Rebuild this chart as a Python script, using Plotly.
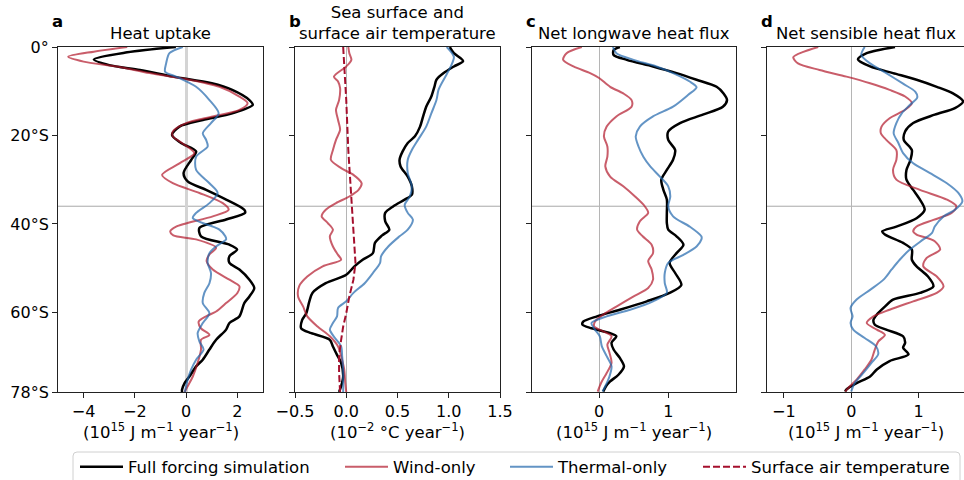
import plotly.graph_objects as go

# ---------------- data (latitude in degrees, negative = south) ----------------
# Panel a: heat uptake (1e15 J m-1 yr-1)
lat_a_full = [0, -1.2, -2.8, -4.1, -5.2, -6.7, -8.2, -9.7, -12.0, -13.1, -15.0, -16.5, -18.0, -19.9, -21.7, -23.6,
              -25.5, -28.5, -30.4, -32.3, -34.5, -36.8, -37.5, -39.0, -40.9, -42.8, -44.7, -45.8, -47.3, -48.8,
              -50.3, -52.6, -54.5, -56.4, -57.9, -60.9, -62.4, -63.9, -66.2, -68.4, -70.7, -72.2, -74.5, -76.0,
              -77.5, -78.0]
a_full = [-0.4, -2.3, -3.6, -3.0, -1.8, -0.5, 1.0, 1.8, 2.47, 2.6, 1.8, 0.65, -0.26, -0.55, -0.2, 0.39,
          0.2, -0.1, 0.06, 0.78, 1.56, 2.27, 2.3, 1.56, 0.52, 0.58, 1.69, 1.99, 1.69, 1.69,
          2.08, 2.47, 2.66, 2.47, 2.27, 2.08, 1.69, 1.56, 1.17, 0.91, 0.65, 0.39, 0.13, -0.06,
          -0.16, -0.16]
lat_a_wind = [0, -1.05, -2.2, -3.3, -4.4, -5.9, -7.4, -9.0, -11.2, -12.7, -14.2, -15.7, -17.2, -19.1, -20.2, -21.7,
              -24.0, -26.3, -28.9, -30.8, -33.0, -35.3, -36.8, -38.3, -40.6, -41.7, -42.6, -43.5, -45.4, -46.9,
              -48.4, -50.3, -52.6, -54.1, -55.6, -57.9, -59.8, -60.9, -62.1, -63.6, -65.1, -66.2, -68.4, -71.4,
              -74.5, -76.7, -78.0]
a_wind = [-2.3, -3.6, -4.6, -4.0, -2.7, -1.43, 0.13, 1.3, 2.08, 2.4, 2.08, 1.04, 0.0, -0.52, -0.52, -0.16,
          0.32, -0.26, -0.94, -0.52, 0.52, 1.43, 1.66, 1.04, -0.39, -0.62, -0.5, 0.39, 1.17, 0.91,
          0.8, 1.04, 1.69, 2.08, 2.0, 1.56, 1.17, 0.78, 0.49, 0.58, 0.91, 0.58, 0.58, 0.45,
          0.26, 0.06, -0.06]
lat_a_thermal = [0, -1.4, -3.7, -5.6, -6.7, -9.0, -12.0, -15.0, -17.2, -19.5, -21.0, -22.5, -24.8, -27.8, -30.8,
                 -33.0, -35.3, -37.5, -38.7, -40.6, -41.3, -42.8, -43.5, -45.1, -46.6, -48.8, -51.1, -53.4, -55.6,
                 -57.9, -60.2, -62.4, -64.7, -66.6, -68.4, -70.7, -73.0, -75.2, -77.5, -78.0]
a_thermal = [-0.13, -0.65, -0.78, -0.82, -0.39, 0.39, 0.91, 1.27, 0.97, 0.65, 0.78, 0.84, 0.39, 0.39, 0.91,
             1.23, 0.91, 0.39, 0.26, 1.04, 1.3, 1.53, 1.56, 1.17, 0.91, 0.84, 0.97, 0.91, 0.71,
             0.65, 0.91, 0.65, 0.45, 0.52, 0.68, 0.39, 0.19, 0.06, -0.03, -0.05]

# Panel b: SST and SAT trends (1e-2 degC yr-1)
lat_b_full = [0, -1.4, -3.2, -4.4, -5.9, -7.4, -9.0, -11.2, -13.5, -15.7, -18.0, -20.2, -21.7, -23.6, -25.5, -27.0,
              -29.3, -31.5, -33.4, -34.5, -36.0, -37.5, -39.4, -41.3, -42.6, -44.3, -46.6, -48.1, -49.6, -51.5,
              -53.4, -55.6, -57.5, -60.2, -61.7, -63.6, -64.7, -66.2, -67.7, -69.6, -71.4, -74.5, -76.7, -78.0]
b_full = [1.01, 1.05, 1.14, 1.05, 0.95, 0.88, 0.86, 0.83, 0.78, 0.75, 0.72, 0.67, 0.6, 0.55, 0.52, 0.53,
          0.6, 0.64, 0.64, 0.57, 0.46, 0.38, 0.38, 0.42, 0.35, 0.28, 0.26, 0.16, 0.08, 0.0,
          -0.2, -0.33, -0.36, -0.39, -0.43, -0.44, -0.34, -0.16, -0.13, -0.09, -0.05, -0.03, -0.05, -0.07]
lat_b_wind = [0, -1.4, -2.9, -4.4, -6.7, -7.8, -9.3, -12.0, -14.2, -16.5, -18.7, -21.0, -23.3, -25.5, -27.4, -28.9,
              -30.8, -32.3, -33.8, -35.3, -36.8, -38.3, -39.8, -41.3, -42.8, -45.1, -47.0, -48.1, -49.6, -51.9,
              -54.1, -56.4, -58.7, -60.9, -63.2, -65.4, -67.7, -69.9, -72.9, -75.9, -78.0]
b_wind = [0.02, 0.03, 0.05, 0.0, -0.12, -0.08, -0.06, -0.07, -0.1, -0.08, -0.06, -0.1, -0.13, -0.15, -0.05, 0.07,
          0.15, 0.12, 0.03, -0.1, -0.2, -0.24, -0.18, -0.13, -0.16, -0.13, -0.08, -0.05, -0.23, -0.38,
          -0.46, -0.47, -0.42, -0.38, -0.28, -0.16, -0.08, -0.05, -0.02, -0.01, 0.0]
lat_b_thermal = [0, -2.2, -4.4, -7.4, -9.7, -12.0, -15.0, -18.0, -21.0, -23.3, -25.5, -28.5, -31.5, -33.8, -35.7,
                 -37.5, -39.0, -41.3, -42.8, -45.1, -47.3, -48.8, -51.1, -53.4, -55.6, -57.5, -59.0, -60.9, -62.4,
                 -63.9, -65.8, -67.7, -69.9, -72.9, -75.9, -78.0]
b_thermal = [0.98, 1.05, 1.02, 0.95, 0.9, 0.88, 0.83, 0.78, 0.7, 0.64, 0.6, 0.6, 0.64, 0.62, 0.57,
             0.6, 0.65, 0.6, 0.52, 0.41, 0.34, 0.33, 0.26, 0.18, 0.07, 0.0, -0.08, -0.09, -0.13,
             -0.16, -0.11, -0.05, -0.04, -0.03, -0.03, -0.03]
lat_b_sat = [0, -12.0, -23.3, -34.5, -42.0, -48.8, -52.6, -56.4, -60.2, -63.2, -66.2, -69.9, -73.7, -78.0]
b_sat = [-0.03, 0.0, 0.02, 0.05, 0.07, 0.09, 0.07, 0.03, 0.0, -0.03, -0.05, -0.07, -0.07, -0.06]

# Panel c: net longwave heat flux (1e15 J m-1 yr-1)
lat_c_full = [0, -0.7, -1.8, -2.9, -4.4, -5.9, -7.4, -9.0, -10.5, -12.0, -13.5, -15.3, -17.2, -19.1, -21.0, -23.3,
              -25.5, -27.8, -30.0, -32.3, -34.5, -37.5, -39.8, -41.3, -42.8, -44.7, -46.6, -48.8, -51.1, -53.8,
              -55.6, -57.5, -59.4, -60.9, -62.1, -62.8, -63.6, -64.7, -65.4, -66.9, -68.4, -70.3, -72.2, -74.1,
              -75.6, -76.7, -77.9]
c_full = [0.3, 0.21, 0.21, 0.4, 0.78, 1.12, 1.41, 1.7, 1.8, 1.85, 1.79, 1.5, 1.17, 1.0, 1.0, 1.1,
          1.07, 0.98, 0.9, 0.93, 0.98, 0.98, 0.98, 1.0, 1.12, 1.22, 1.12, 1.02, 1.1, 1.19,
          1.02, 0.69, 0.3, -0.03, -0.23, -0.24, -0.11, 0.16, 0.25, 0.18, 0.21, 0.3, 0.36, 0.28,
          0.16, 0.1, 0.06]
lat_c_wind = [0, -1.4, -2.9, -4.4, -5.9, -7.0, -9.0, -10.5, -12.0, -13.5, -15.7, -18.0, -20.2, -22.5, -24.8, -27.0,
              -29.3, -31.5, -33.8, -36.0, -37.5, -39.4, -41.3, -42.8, -44.7, -46.6, -48.4, -50.3, -52.6, -54.5,
              -56.4, -58.7, -60.5, -62.1, -63.2, -64.3, -65.4, -67.3, -69.1, -71.4, -73.7, -75.9, -77.9]
c_wind = [-0.25, -0.47, -0.52, -0.37, -0.13, 0.0, 0.16, 0.35, 0.47, 0.47, 0.25, 0.11, 0.07, 0.12, 0.12, 0.09,
          0.16, 0.35, 0.52, 0.66, 0.71, 0.59, 0.55, 0.63, 0.76, 0.78, 0.71, 0.76, 0.78, 0.71,
          0.5, 0.25, 0.06, -0.06, -0.07, 0.06, 0.18, 0.12, 0.15, 0.18, 0.11, 0.03, -0.02]
lat_c_thermal = [0, -1.4, -2.9, -4.4, -5.9, -7.8, -9.1, -10.8, -13.5, -15.7, -18.0, -20.2, -22.5, -24.8, -27.0,
                 -29.3, -31.5, -33.8, -36.0, -38.3, -40.6, -42.8, -43.5, -45.1, -47.0, -48.8, -51.1, -53.4, -55.6,
                 -57.5, -59.4, -60.9, -62.4, -63.9, -65.4, -67.7, -69.9, -72.2, -74.5, -76.7, -77.9]
c_thermal = [0.2, 0.25, 0.5, 0.83, 1.07, 1.31, 1.41, 1.29, 1.07, 0.78, 0.59, 0.53, 0.57, 0.64, 0.74,
             0.88, 1.0, 1.03, 1.0, 1.07, 1.31, 1.48, 1.48, 1.41, 1.22, 1.0, 0.95, 0.95, 0.98,
             0.78, 0.45, 0.11, -0.11, -0.06, 0.01, 0.04, 0.11, 0.18, 0.15, 0.09, 0.05]

# Panel d: net sensible heat flux (1e15 J m-1 yr-1)
lat_d_full = [0, -1.4, -2.8, -4.4, -5.9, -7.4, -9.0, -10.5, -12.3, -13.8, -15.3, -17.2, -19.1, -21.0, -23.3, -25.5,
              -27.8, -30.0, -32.3, -34.5, -36.8, -38.7, -40.6, -41.7, -42.4, -44.3, -45.8, -48.1, -49.6, -51.9,
              -54.1, -55.6, -57.1, -58.7, -60.5, -61.7, -62.8, -63.9, -65.4, -66.9, -68.0, -69.5, -71.0, -72.9,
              -74.5, -76.0, -77.4, -77.9]
d_full = [0.65, 0.23, 0.1, 0.28, 0.62, 0.97, 1.27, 1.51, 1.66, 1.54, 1.24, 0.92, 0.8, 0.78, 0.9, 0.88,
          0.82, 0.82, 0.92, 1.02, 1.09, 0.97, 0.67, 0.46, 0.5, 0.77, 0.9, 0.9, 0.97, 1.14,
          1.22, 1.02, 0.62, 0.5, 0.38, 0.33, 0.35, 0.52, 0.77, 0.8, 0.77, 0.85, 0.57, 0.38,
          0.28, 0.08, -0.07, -0.09]
lat_d_wind = [0, -1.1, -2.3, -3.7, -5.2, -6.7, -8.2, -9.7, -11.2, -12.7, -14.2, -16.1, -18.0, -19.5, -21.0, -23.3,
              -25.5, -27.8, -30.0, -32.3, -34.5, -36.0, -37.5, -39.1, -40.6, -41.7, -42.4, -43.9, -45.8, -47.7,
              -49.6, -51.9, -54.1, -55.6, -57.5, -59.4, -60.9, -62.4, -63.9, -65.1, -66.6, -68.4, -70.7, -72.9,
              -75.2, -76.7, -77.9]
d_wind = [-0.49, -0.71, -0.86, -0.79, -0.47, -0.07, 0.28, 0.57, 0.8, 0.9, 0.8, 0.57, 0.45, 0.44, 0.52, 0.67,
          0.67, 0.62, 0.67, 1.02, 1.42, 1.56, 1.49, 1.22, 0.97, 0.92, 0.97, 1.24, 1.32, 1.12,
          1.07, 1.27, 1.37, 1.27, 0.92, 0.57, 0.33, 0.23, 0.38, 0.5, 0.4, 0.35, 0.3, 0.2,
          0.08, -0.02, -0.09]
lat_d_thermal = [0, -1.8, -3.7, -5.9, -8.3, -10.1, -11.4, -13.1, -15.0, -17.2, -19.5, -21.7, -24.0, -26.3, -28.5,
                 -30.8, -33.0, -34.9, -36.8, -38.3, -40.6, -42.0, -43.5, -45.8, -48.1, -50.3, -52.6, -54.9, -57.1,
                 -59.0, -60.9, -62.4, -63.9, -65.8, -67.7, -69.5, -71.4, -73.7, -76.0, -77.9]
d_thermal = [0.2, 0.15, 0.28, 0.52, 0.77, 0.95, 0.98, 0.87, 0.75, 0.67, 0.63, 0.7, 0.77, 0.92, 1.17,
             1.42, 1.59, 1.65, 1.54, 1.37, 1.24, 1.2, 1.07, 0.87, 0.72, 0.6, 0.48, 0.28, 0.08,
             -0.01, 0.02, -0.01, 0.03, 0.2, 0.37, 0.4, 0.3, 0.18, 0.05, 0.0]

panel_titles = ["Heat uptake", "Sea surface and<br>surface air temperature",
                "Net longwave heat flux", "Net sensible heat flux"]
panel_letters = ["a", "b", "c", "d"]
x_labels = ["(10<sup>15</sup> J m<sup>−1</sup> year<sup>−1</sup>)",
            "(10<sup>−2</sup> °C year<sup>−1</sup>)",
            "(10<sup>15</sup> J m<sup>−1</sup> year<sup>−1</sup>)",
            "(10<sup>15</sup> J m<sup>−1</sup> year<sup>−1</sup>)"]
x_tickvals = [[-4, -2, 0, 2], [-0.5, 0, 0.5, 1.0, 1.5], [0, 1], [-1, 0, 1]]
x_ticktext = [["−4", "−2", "0", "2"], ["−0.5", "0.0", "0.5", "1.0", "1.5"], ["0", "1"], ["−1", "0", "1"]]
x_ranges = [[-5, 3], [-0.5, 1.5], [-0.97, 1.98], [-1.25, 1.674]]
lat_tickvals = [0, -20, -40, -60, -78]
lat_ticktext = ["0°", "20°S", "40°S", "60°S", "78°S"]
ref_lat = -36
legend_names = ["Full forcing simulation", "Wind-only", "Thermal-only", "Surface air temperature"]

# ---------------- styling ----------------
W, H = 964, 480
FONT = "DejaVu Sans"
BLACK = "#000000"
RED = "rgba(178,24,43,0.7)"
BLUE = "rgba(33,102,172,0.7)"
SATC = "#a50f2d"
px_left = [58, 295, 532, 767]
px_right = [263, 500, 736, 964]
y_top_px, y_bot_px = 47, 392
ydom = [(H - y_bot_px) / H, (H - y_top_px) / H]

panels = [
    [(lat_a_full, a_full, "full"), (lat_a_wind, a_wind, "wind"), (lat_a_thermal, a_thermal, "thermal")],
    [(lat_b_full, b_full, "full"), (lat_b_wind, b_wind, "wind"), (lat_b_thermal, b_thermal, "thermal"),
     (lat_b_sat, b_sat, "sat")],
    [(lat_c_full, c_full, "full"), (lat_c_wind, c_wind, "wind"), (lat_c_thermal, c_thermal, "thermal")],
    [(lat_d_full, d_full, "full"), (lat_d_wind, d_wind, "wind"), (lat_d_thermal, d_thermal, "thermal")],
]
style = {
    "full": dict(color=BLACK, width=2.5, dash="solid", name=legend_names[0], legend="legend"),
    "wind": dict(color=RED, width=2.0, dash="solid", name=legend_names[1], legend="legend2"),
    "thermal": dict(color=BLUE, width=2.0, dash="solid", name=legend_names[2], legend="legend3"),
    "sat": dict(color=SATC, width=2.0, dash="7px,3px", name=legend_names[3], legend="legend4"),
}

fig = go.Figure()
shown = set()
for i, series in enumerate(panels):
    sfx = "" if i == 0 else str(i + 1)
    for lat, val, key in series:
        s = style[key]
        fig.add_trace(go.Scatter(
            x=val, y=lat, mode="lines", name=s["name"], legend=s["legend"],
            line=dict(color=s["color"], width=s["width"], dash=s["dash"],
                      shape="linear" if key == "sat" else "spline", smoothing=0.8),
            xaxis="x" + sfx, yaxis="y" + sfx,
            showlegend=key not in shown, hoverinfo="skip"))
        shown.add(key)

layout = dict(width=W, height=H, margin=dict(l=0, r=0, t=0, b=0, autoexpand=False),
              paper_bgcolor="white", plot_bgcolor="white",
              font=dict(family=FONT, size=16, color="black"), shapes=[], annotations=[])

for i in range(4):
    sfx = "" if i == 0 else str(i + 1)
    xd = [px_left[i] / W, px_right[i] / W]
    layout["xaxis" + sfx] = dict(
        domain=xd, range=x_ranges[i], anchor="y" + sfx, tickmode="array",
        tickvals=x_tickvals[i], ticktext=x_ticktext[i], ticks="outside", ticklen=5, tickwidth=1,
        tickcolor="#222", showline=True, linecolor="#222", linewidth=1, mirror=True,
        showgrid=False, zeroline=True, zerolinecolor="#d4d4d4" if i == 0 else "#b5b5b5",
        zerolinewidth=2.5 if i == 0 else 1, automargin=False, tickfont=dict(size=16))
    layout["yaxis" + sfx] = dict(
        domain=ydom, range=[-78, 0], anchor="x" + sfx, tickmode="array",
        tickvals=lat_tickvals, ticktext=lat_ticktext, showticklabels=(i == 0),
        ticks="outside", ticklen=5, tickwidth=1, tickcolor="#222",
        showline=True, linecolor="#222", linewidth=1, mirror=(i != 3),
        showgrid=False, zeroline=False, automargin=False, tickfont=dict(size=16))
    layout["shapes"].append(dict(type="line", xref=("x" + sfx) + " domain", yref="y" + sfx,
                                 x0=0, x1=1, y0=ref_lat, y1=ref_lat, layer="below",
                                 line=dict(color="#a8a8a8", width=1)))
    cx = (px_left[i] + min(px_right[i], px_left[i] + 205)) / 2 / W
    layout["annotations"].append(dict(text=panel_titles[i], xref="paper", yref="paper",
                                      x=cx, y=(H - 45) / H, xanchor="center", yanchor="bottom",
                                      showarrow=False, font=dict(size=16.5)))
    layout["annotations"].append(dict(text="<b>" + panel_letters[i] + "</b>", xref="paper", yref="paper",
                                      x=(px_left[i] - 8) / W, y=(H - 22) / H, xanchor="left",
                                      yanchor="middle", showarrow=False, font=dict(size=16.5)))
    layout["annotations"].append(dict(text=x_labels[i], xref="paper", yref="paper",
                                      x=cx, y=(H - 431) / H, xanchor="center", yanchor="middle",
                                      showarrow=False, font=dict(size=16.5)))

# legends (one per entry, placed along one row)
leg_px = [80, 345, 510, 703]
for j, lx in enumerate(leg_px):
    key = "legend" if j == 0 else "legend" + str(j + 1)
    layout[key] = dict(x=(lx - 5) / W, y=(H - 467) / H, xref="container", yref="container",
                       xanchor="left", yanchor="middle",
                       orientation="h", bgcolor="rgba(0,0,0,0)", borderwidth=0,
                       font=dict(size=16.5, family=FONT), itemwidth=43)

# legend frame
x0, x1 = 73 / W, 960 / W
yt, yb = (H - 452) / H, -0.2
rx, ry = 4 / W, 4 / H
layout["shapes"].append(dict(type="path", xref="paper", yref="paper",
                             path=f"M{x0},{yb} L{x0},{yt-ry} Q{x0},{yt} {x0+rx},{yt} L{x1-rx},{yt} Q{x1},{yt} {x1},{yt-ry} L{x1},{yb}",
                             line=dict(color="#d0d0d0", width=1)))

fig.update_layout(**layout)
fig.write_html("out.html", config={"displayModeBar": False},
               post_script="document.body.style.margin='0';document.body.style.padding='0';")
